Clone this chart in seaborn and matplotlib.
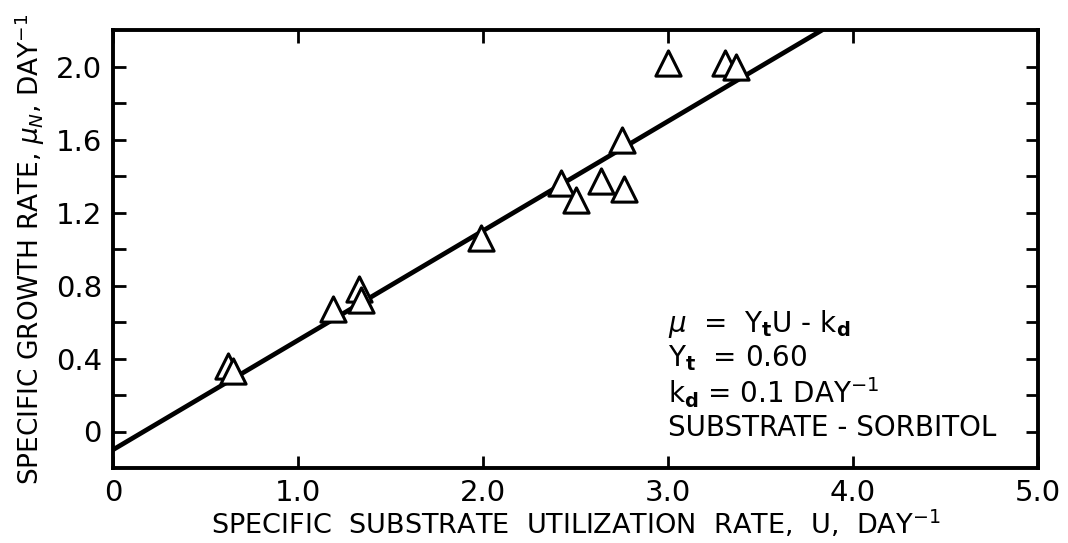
import numpy as np
import pandas as pd
import matplotlib
matplotlib.use("Agg")
import matplotlib.pyplot as plt
import seaborn as sns
from matplotlib.ticker import FixedLocator, FixedFormatter

# ---- data ----
u_values = [0.62, 0.65, 1.19, 1.33, 1.34, 1.99, 2.42, 2.50, 2.64, 2.76, 2.75, 3.00, 3.31, 3.37]
mu_values = [0.36, 0.33, 0.67, 0.78, 0.72, 1.06, 1.36, 1.27, 1.37, 1.33, 1.60, 2.02, 2.02, 2.00]
yield_coef = 0.60
decay_coef = 0.10
fit_u = [0.0, 3.833]
x_tick_values = [0, 1, 2, 3, 4, 5]
x_tick_labels = ["0", "1.0", "2.0", "3.0", "4.0", "5.0"]
y_tick_values = [0.0, 0.4, 0.8, 1.2, 1.6, 2.0]
y_tick_labels = ["0", "0.4", "0.8", "1.2", "1.6", "2.0"]
y_minor_values = [0.2, 0.6, 1.0, 1.4, 1.8]

sns.set_theme(style="white")
plt.rcParams['font.family'] = ['DejaVu Sans']
plt.rcParams['mathtext.fontset'] = 'dejavusans'

pts = pd.DataFrame({"U": u_values, "mu": mu_values})
fit = pd.DataFrame({"U": fit_u, "mu": [yield_coef * u - decay_coef for u in fit_u]})

fig = plt.figure(figsize=(10.68, 5.43), dpi=100)
ax = fig.add_axes([113 / 1068, 1 - 468 / 543, (1038 - 113) / 1068, (468 - 30) / 543])

sns.lineplot(data=fit, x="U", y="mu", ax=ax, color="black", linewidth=3.4, zorder=2)
sns.scatterplot(data=pts, x="U", y="mu", ax=ax, marker="^", s=330,
                facecolor="white", edgecolor="black", linewidth=2.2, zorder=3)

ax.set_xlim(0, 5)
ax.set_ylim(-0.2, 2.2)

ax.xaxis.set_major_locator(FixedLocator(x_tick_values))
ax.xaxis.set_major_formatter(FixedFormatter(x_tick_labels))
ax.yaxis.set_major_locator(FixedLocator(y_tick_values))
ax.yaxis.set_major_formatter(FixedFormatter(y_tick_labels))
ax.yaxis.set_minor_locator(FixedLocator(y_minor_values))

for side in ["left", "right", "top", "bottom"]:
    ax.spines[side].set_visible(True)
    ax.spines[side].set_color("black")
    ax.spines[side].set_linewidth(2.8)

ax.tick_params(axis="both", which="both", direction="in", length=9, width=2.0,
               top=True, right=True, bottom=True, left=True, color="black")
ax.tick_params(axis="both", which="major", labelsize=21, labelcolor="black", pad=8)

ax.set_xlabel("SPECIFIC  SUBSTRATE  UTILIZATION  RATE,  U,  DAY$^{-1}$",
              fontsize=19.5, color="black", labelpad=1)
ax.set_ylabel("SPECIFIC GROWTH RATE, $\\mu_N$, DAY$^{-1}$",
              fontsize=19, color="black", labelpad=6)

tx = 3.0
fs = 20
ax.text(tx, 0.59, "$\\mu$  =  Y$_\\mathbf{t}$U - k$_\\mathbf{d}$", fontsize=fs, color="black", va="center")
ax.text(tx, 0.40, "Y$_\\mathbf{t}$  = 0.60", fontsize=fs, color="black", va="center")
ax.text(tx, 0.215, "k$_\\mathbf{d}$ = 0.1 DAY$^{-1}$", fontsize=fs, color="black", va="center")
ax.text(tx, 0.02, "SUBSTRATE - SORBITOL", fontsize=fs, color="black", va="center")

ax.set_facecolor("white")
fig.savefig("out.png", dpi=100, facecolor="white")
